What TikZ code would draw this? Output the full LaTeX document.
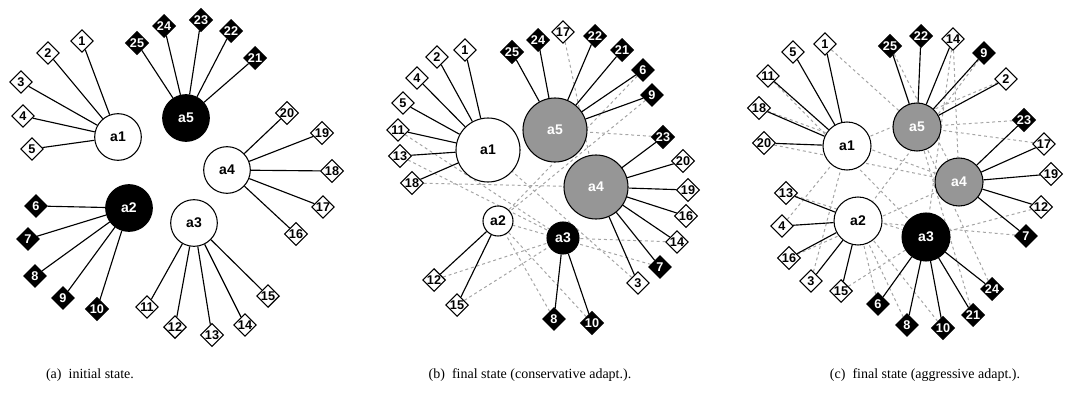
\documentclass[tikz,border=0pt]{standalone}
\usepackage{fontspec}
\setmainfont{Liberation Serif}
\newfontfamily\lblfont{Liberation Sans}
\usetikzlibrary{shapes.geometric,backgrounds}
\definecolor{agentgray}{RGB}{150,150,150}
\definecolor{linkgray}{RGB}{165,165,165}
\tikzset{
  agent/.style={circle,draw=black,line width=0.8pt,inner sep=0pt,font=\lblfont\bfseries\fontsize{10.5}{10.5}\selectfont},
  wagent/.style={agent,fill=white,text=black},
  bagent/.style={agent,fill=black,text=white},
  gagent/.style={agent,fill=agentgray,text=white},
  task/.style={diamond,draw=black,line width=0.8pt,minimum size=17pt,inner sep=0pt,aspect=1,font=\lblfont\bfseries\fontsize{9.5}{9.5}\selectfont},
  wtask/.style={task,fill=white,text=black},
  btask/.style={task,fill=black,text=white},
  link/.style={line width=0.85pt,black},
  olink/.style={line width=0.75pt,linkgray,dash pattern=on 2.2pt off 2.2pt},
  captext/.style={font=\fontsize{10.5}{12}\selectfont}
}
\newif\ifblk
% task diamond: black for tasks 6-10 and 21-25
\newcommand{\tasknode}[3]{%
  \blkfalse
  \ifnum#2>20 \blktrue\fi
  \ifnum#2>5 \ifnum#2<11 \blktrue\fi\fi
  \ifblk\node[btask] (#1#2) at (#3) {#2};\else\node[wtask] (#1#2) at (#3) {#2};\fi}
\begin{document}
\begin{tikzpicture}[x=0.75pt,y=-0.75pt]
\useasboundingbox (0,0) rectangle (1070,396);

% ---------------- (a) initial state ----------------
\node[wagent,minimum size=35pt] (aag1) at (118,137) {a1};
\node[bagent,minimum size=35pt] (aag2) at (129,208) {a2};
\node[wagent,minimum size=35pt] (aag3) at (194,223) {a3};
\node[wagent,minimum size=35pt] (aag4) at (227,170) {a4};
\node[bagent,minimum size=35pt] (aag5) at (186,118) {a5};
\foreach \n/\p in {1/{82,41},2/{48,53},3/{21,82},4/{23,116},5/{32,149},
  6/{36,206},7/{28,239},8/{35,276},9/{63,298},10/{97,309},
  11/{147,307},12/{175,327},13/{212,335},14/{245,325},15/{268,296},
  16/{296,234},17/{323,207},18/{332,171},19/{322,133},20/{287,113},
  21/{255,58},22/{231,31},23/{201,20},24/{164,26},25/{137,43}}
  {\tasknode{at}{\n}{\p}}
\begin{scope}[on background layer]
  \foreach \a/\l in {1/{1,2,3,4,5},2/{6,7,8,9,10},3/{11,12,13,14,15},4/{16,17,18,19,20},5/{21,22,23,24,25}}
    \foreach \t in \l {\draw[link] (aag\a) -- (at\t);}
\end{scope}

% ---------------- (b) conservative adaptation ----------------
\node[wagent,minimum size=48pt] (bag1) at (488,150) {a1};
\node[wagent,minimum size=22.5pt] (bag2) at (498,221) {a2};
\node[bagent,minimum size=24pt] (bag3) at (563,238) {a3};
\node[gagent,minimum size=48pt] (bag4) at (596,187) {a4};
\node[gagent,minimum size=48pt] (bag5) at (555,130) {a5};
\foreach \n/\p in {1/{465,50},2/{437,57},4/{417,78},5/{403,103},11/{398,130},
  13/{400,156},18/{412,183},25/{512,52},24/{538,40},17/{563,32},22/{595,36},
  21/{622,50},6/{643,70},9/{652,95},23/{663,137},20/{683,161},19/{688,190},
  16/{686,216},14/{677,242},7/{660,267},3/{638,283},10/{592,323},8/{554,319},
  15/{457,305},12/{434,280}}
  {\tasknode{bt}{\n}{\p}}
\begin{scope}[on background layer]
  \foreach \t/\a in {11/3,13/3,18/4,12/3,15/3,8/2,10/2,23/5,14/3,7/2,3/1,6/2,9/2,17/4}
    {\draw[olink] (bt\t) -- (bag\a);}
  \foreach \a/\l in {1/{1,2,4,5,11,13,18},2/{12,15},3/{8,10},4/{23,20,19,16,14,7,3},5/{25,24,22,21,6,9}}
    \foreach \t in \l {\draw[link] (bag\a) -- (bt\t);}
\end{scope}

% ---------------- (c) aggressive adaptation ----------------
\node[wagent,minimum size=36pt] (cag1) at (847,146) {a1};
\node[wagent,minimum size=36pt] (cag2) at (858,221) {a2};
\node[bagent,minimum size=36pt] (cag3) at (926,237) {a3};
\node[gagent,minimum size=36pt] (cag4) at (959,182) {a4};
\node[gagent,minimum size=36pt] (cag5) at (917,127) {a5};
\foreach \n/\p in {1/{825,44},5/{793,52},11/{768,76},18/{759,108},20/{764,143},
  25/{890,46},22/{921,36},14/{953,39},9/{984,53},2/{1006,79},23/{1024,120},
  17/{1044,144},19/{1051,174},12/{1041,207},7/{1026,236},24/{992,289},
  21/{973,315},10/{943,328},8/{907,325},6/{878,304},15/{841,291},3/{811,281},
  16/{789,258},4/{782,226},13/{786,193}}
  {\tasknode{ct}{\n}{\p}}
\begin{scope}[on background layer]
  \foreach \t/\a in {11/3,18/4,20/4,13/3,4/1,16/4,3/1,15/3,6/2,8/2,10/2,21/5,24/5,23/5,12/3,7/2,14/3,9/2,2/1,
    1/5,25/4,17/5,14/4}
    {\draw[olink] (ct\t) -- (cag\a);}
  \foreach \a/\l in {1/{1,5,11,18,20},2/{13,4,16,3,15},3/{6,8,10,21,24},4/{23,17,19,12,7},5/{25,22,14,9,2}}
    \foreach \t in \l {\draw[link] (cag\a) -- (ct\t);}
\end{scope}

% ---------------- captions ----------------
\node[captext] (capa) at (90,375) {(a)\hspace{0.5em}initial state.};
\node[captext] (capb) at (530,375) {(b)\hspace{0.5em}final state (conservative adapt.).};
\node[captext] (capc) at (925,375) {(c)\hspace{0.5em}final state (aggressive adapt.).};
\end{tikzpicture}
\end{document}
